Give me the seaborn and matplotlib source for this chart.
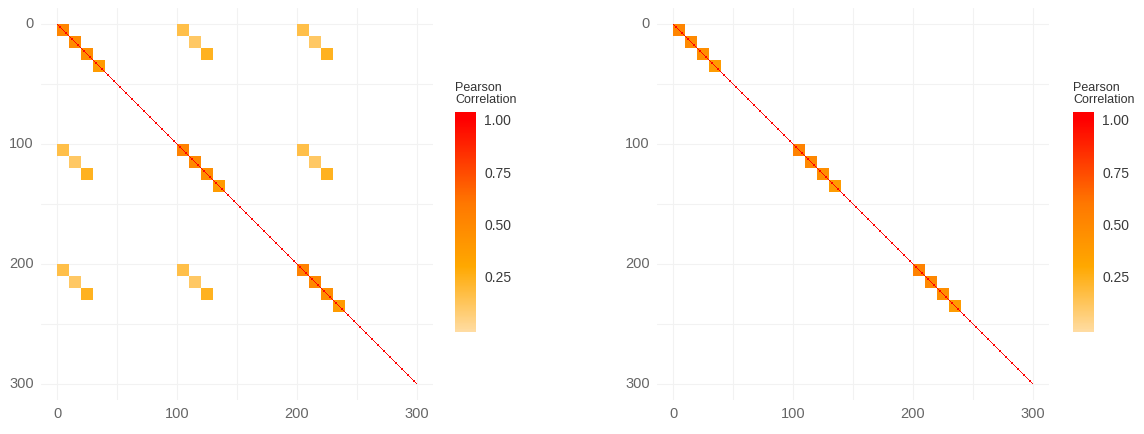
import numpy as np
import pandas as pd
import matplotlib
matplotlib.use("Agg")
import matplotlib.pyplot as plt
import seaborn as sns
from matplotlib.colors import LinearSegmentedColormap

# matrix size and block layout
n_vars = 300
group_starts = [0, 100, 200]
block_size = 10
# within-group correlation of the 4 diagonal blocks (per group)
diag_block_vals = [[0.52, 0.49, 0.46, 0.38],
                   [0.54, 0.50, 0.46, 0.38],
                   [0.54, 0.50, 0.46, 0.38]]
# cross-group correlation of the first 3 sub-blocks (left chart only)
cross_block_vals = [0.16, 0.11, 0.24]

cbar_ticks = [0.25, 0.50, 0.75, 1.00]
axis_ticks = [0, 100, 200, 300]


def build_matrix(with_cross):
    m = np.zeros((n_vars, n_vars))
    for g, gs in enumerate(group_starts):
        for k, v in enumerate(diag_block_vals[g]):
            a = gs + k * block_size
            m[a:a + block_size, a:a + block_size] = v
    if with_cross:
        for g1 in group_starts:
            for g2 in group_starts:
                if g1 == g2:
                    continue
                for k, v in enumerate(cross_block_vals):
                    a = g1 + k * block_size
                    b = g2 + k * block_size
                    m[a:a + block_size, b:b + block_size] = v
    np.fill_diagonal(m, 1.0)
    return m


mat_left = build_matrix(True)
mat_right = build_matrix(False)

vmin, vmax = -0.013, 1.038
nodes = [(vmin, "#FFDCA2"), (0.30, "#FFA800"), (0.60, "#FF7800"), (1.0, "#FF0000"), (vmax, "#FF0000")]
cmap = LinearSegmentedColormap.from_list(
    "pearson", [((v - vmin) / (vmax - vmin), c) for v, c in nodes])

sns.set_theme(style="white")
plt.rcParams["font.family"] = ["Liberation Sans", "DejaVu Sans"]

W, H = 1144, 434
fig = plt.figure(figsize=(W / 100, H / 100), dpi=100)


def fx(px):
    return px / W


def fy(px):
    return (H - px) / H


panel = 327 * 1.2
specs = [(mat_left, 57, 455), (mat_right, 673, 1073)]
for mat, x0, cx in specs:
    left = x0 - 13.5 * 1.2
    ax = fig.add_axes([fx(left), fy(24 - 13.5 * 1.2 + panel), panel / W, panel / H])
    cax = fig.add_axes([fx(cx), fy(332), 21 / W, 220 / H])
    sns.heatmap(mat, mask=(mat == 0), cmap=cmap, vmin=vmin, vmax=vmax,
                ax=ax, cbar_ax=cax, linewidths=0, edgecolor="none",
                antialiased=False, rasterized=True)
    ax.set_xlim(-13.5, 313.5)
    ax.set_ylim(313.5, -13.5)
    ax.set_xticks(axis_ticks)
    ax.set_yticks(axis_ticks)
    ax.set_xticklabels([str(t) for t in axis_ticks], rotation=0)
    ax.set_yticklabels([str(t) for t in axis_ticks], rotation=0)
    ax.set_xticks([50, 150, 250], minor=True)
    ax.set_yticks([50, 150, 250], minor=True)
    ax.tick_params(which="both", length=0, pad=5, labelsize=10.5, labelcolor="#666666")
    ax.set_axisbelow(True)
    ax.grid(True, which="both", color="#F2F2F2", linewidth=0.8)
    for s in ax.spines.values():
        s.set_visible(False)

    cax.set_ylim(vmin, vmax)
    cax.set_yticks(cbar_ticks)
    cax.set_yticklabels([f"{t:.2f}" for t in cbar_ticks])
    cax.tick_params(axis="y", which="both", direction="in", length=4, width=0.8,
                    color="white", left=True, right=True, labelleft=False,
                    labelright=True, labelsize=10, labelcolor="#3a3a3a", pad=6)
    for s in cax.spines.values():
        s.set_visible(False)
    fig.text(fx(cx), fy(106), "Pearson\nCorrelation", fontsize=9,
             color="#333333", ha="left", va="bottom", linespacing=1.0)

fig.savefig("out.png", dpi=100)
